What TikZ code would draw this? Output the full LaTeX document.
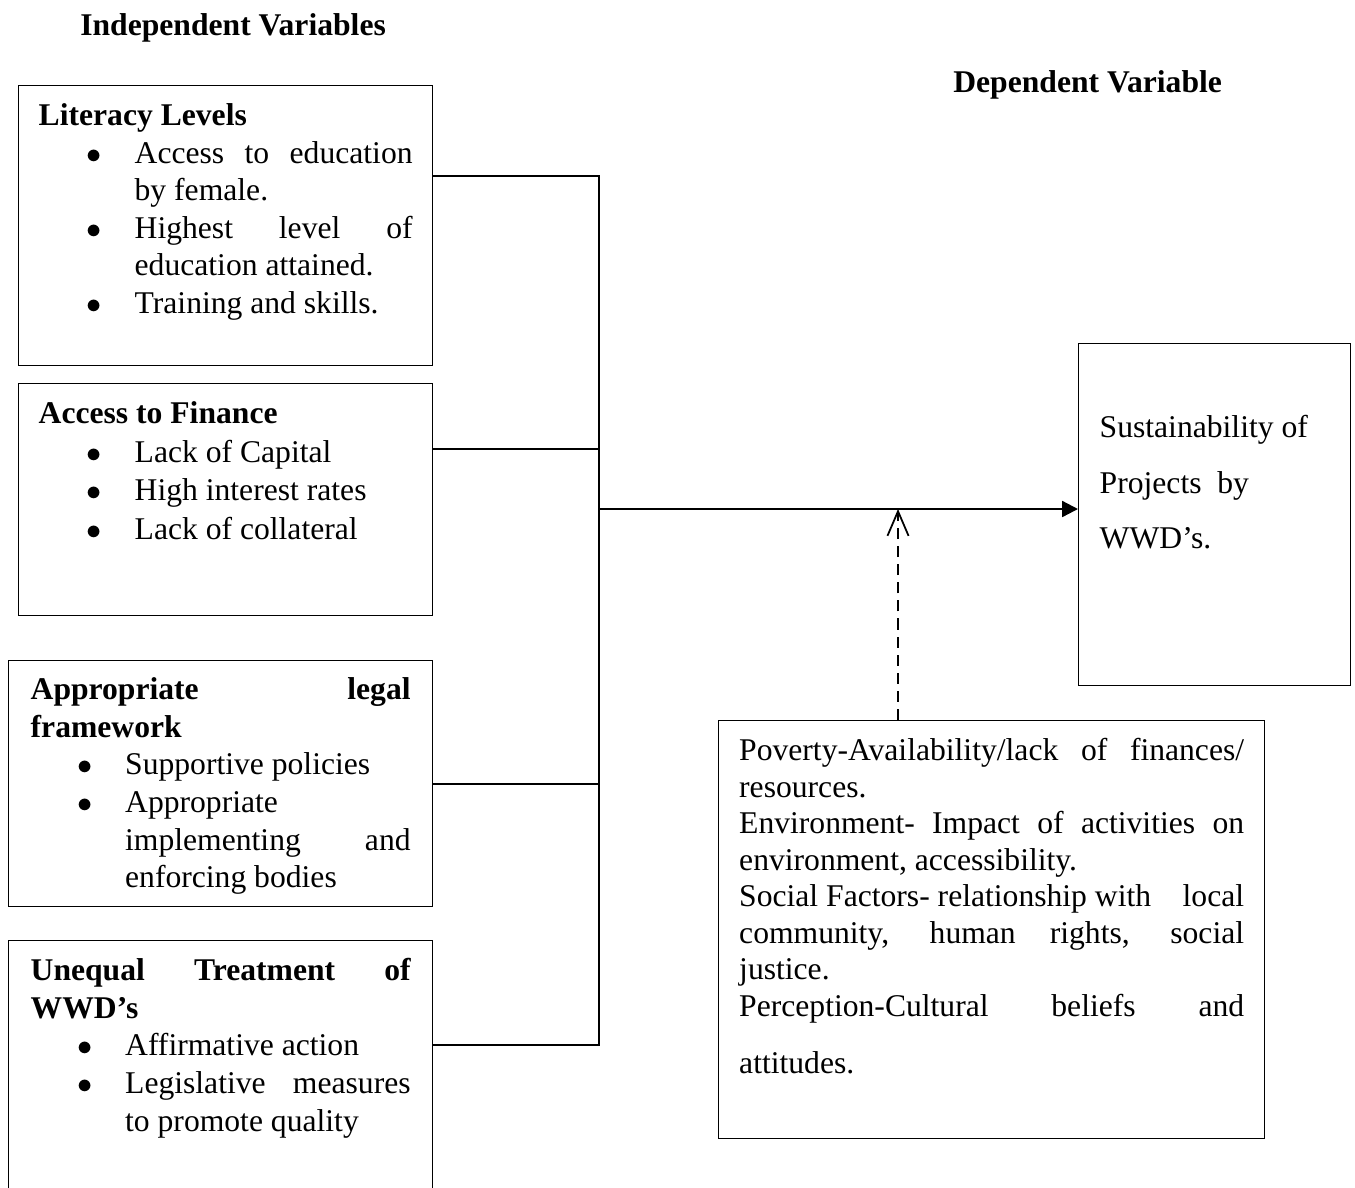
\documentclass[tikz,border=0pt]{standalone}
\usepackage{fontspec}
\setmainfont{Liberation Serif}
\usetikzlibrary{positioning,arrows.meta}

\hyphenpenalty=10000
\exhyphenpenalty=10000

\newcommand{\boxfont}[1]{\fontsize{18pt}{#1}\selectfont}
\newcommand{\vtitle}[2]{\rule{0pt}{#1}\textbf{#2}\par}
\newcommand{\vitem}[2][1.92cm]{{\leftskip=#1\noindent\llap{$\bullet$\hspace{0.66cm}}#2\par}}

\begin{document}
\begin{tikzpicture}[x=0.02cm, y=-0.02cm,
    varbox/.style={draw, line width=0.8pt, anchor=north west, inner ysep=0pt, inner xsep=0.4cm},
    link/.style={line width=0.8pt},
    mainarrow/.style={line width=1.3pt, -{Triangle[length=9pt,width=9pt]}},
    modarrow/.style={line width=1pt, dash pattern=on 6.3pt off 4pt, -{Straight Barb[length=14pt,width=12pt]}},
    heading/.style={anchor=base west, inner sep=0pt, font=\boxfont{21pt}\bfseries}]

\clip (0,0) rectangle (1355,1187);

% headings
\node[heading] (indep) at (80,35) {Independent Variables};
\node[heading] (dep) at (953,92) {Dependent Variable};

% independent variables
\node[varbox] (lit) at (18,85) {\parbox[c][5.6cm][t]{7.48cm}{\boxfont{21.4pt}%
    \vtitle{22.7pt}{Literacy Levels}%
    \vitem{Access to education\linebreak by female.}%
    \vitem{Highest level of\linebreak education attained.}%
    \vitem{Training and skills.}}};
\node[varbox] (fin) at (18,383) {\parbox[c][4.64cm][t]{7.48cm}{\boxfont{22pt}%
    \vtitle{22.7pt}{Access to Finance}%
    \vitem{Lack of Capital}%
    \vitem{High interest rates}%
    \vitem{Lack of collateral}}};
\node[varbox, inner xsep=0.44cm] (legal) at (8,660) {\parbox[c][4.92cm][t]{7.6cm}{\boxfont{21.4pt}%
    \vtitle{22.2pt}{Appropriate legal\linebreak framework}%
    \vitem[1.89cm]{Supportive policies}%
    \vitem[1.89cm]{Appropriate\newline implementing and\linebreak enforcing bodies}}};
\node[varbox, inner xsep=0.44cm] (uneq) at (8,940) {\parbox[c][5.4cm][t]{7.6cm}{\boxfont{21.4pt}%
    \vtitle{22.8pt}{Unequal Treatment of\linebreak WWD’s}%
    \vitem[1.89cm]{Affirmative action}%
    \vitem[1.89cm]{Legislative measures\linebreak to promote quality}}};

% dependent variable
\node[varbox, inner xsep=0.42cm] (sust) at (1078,343) {\parbox[c][6.84cm][t]{4.6cm}{\boxfont{31.6pt}\raggedright
    \rule{0pt}{53.5pt}Sustainability of\\ Projects~~by\\ WWD’s.}};

% intervening variables
\node[varbox, inner xsep=0.41cm] (mod) at (718,720) {\parbox[c][8.36cm][t]{10.1cm}{\boxfont{20.8pt}%
    \rule{0pt}{22.7pt}Poverty-Availability/lack of finances/\linebreak resources.\par
    Environment- Impact of activities on\linebreak environment, accessibility.\par
    Social Factors- relationship with\hfill local\linebreak community, human rights, social\linebreak justice.\par
    Perception-Cultural beliefs and\vadjust{\vskip 11.6pt}\linebreak attitudes.}};

\coordinate (bustop) at (599,176);  % top of the bus line
\coordinate (busbot) at (599,1045); % bottom of the bus line
\coordinate (finjoin) at (599,449);
\coordinate (legaljoin) at (599,784);
\coordinate (hub) at (599,509);     % start of the main arrow
\coordinate (modtip) at (898,509);

\draw[link] (lit.east |- bustop) -- (bustop) -- (busbot) -- (uneq.east |- busbot);
\draw[link] (fin.east |- finjoin) -- (finjoin);
\draw[link] (legal.east |- legaljoin) -- (legaljoin);
\draw[mainarrow] (hub) -- (sust.west |- hub);
\draw[modarrow] (mod.north -| modtip) -- (modtip);
\end{tikzpicture}
\end{document}
